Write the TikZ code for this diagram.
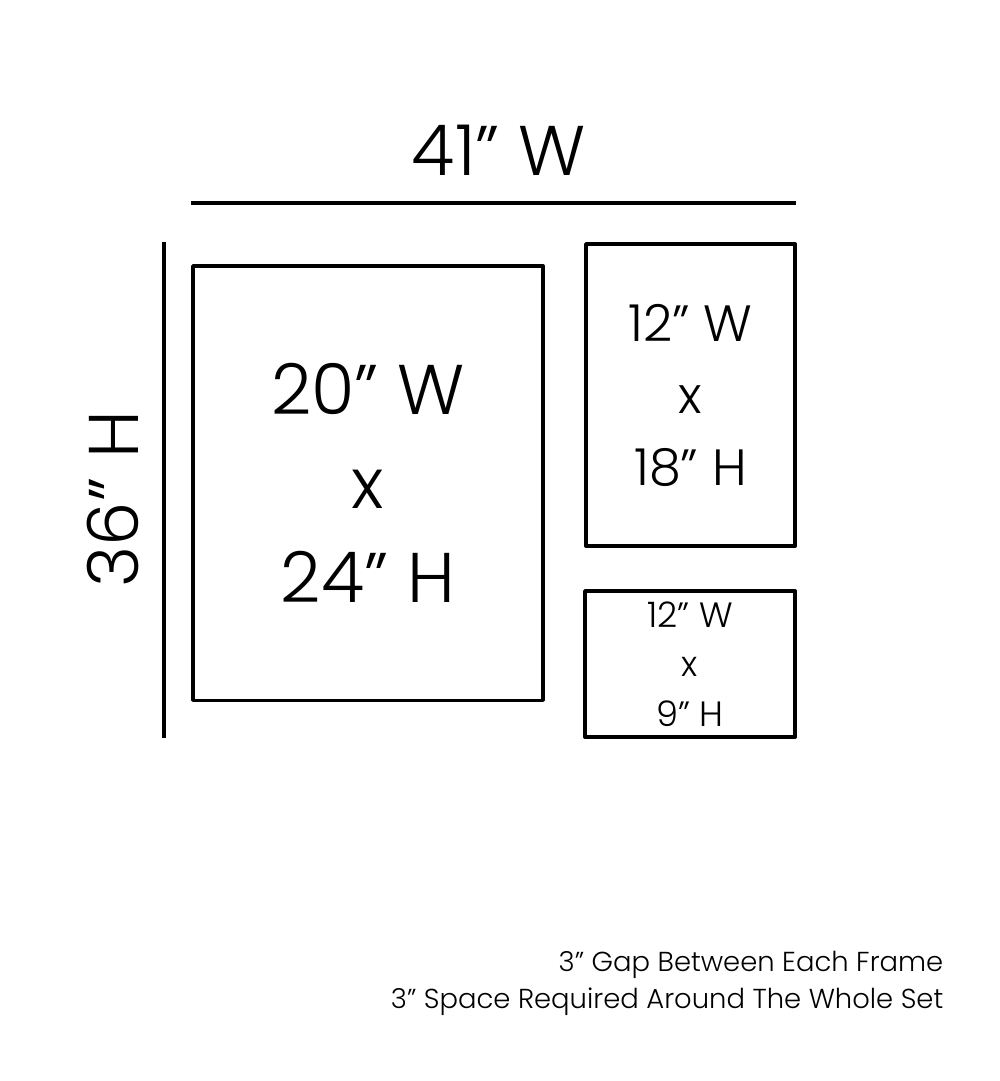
\documentclass[tikz,border=0pt]{standalone}
\usepackage{fontspec}
\setmainfont{Poppins}[UprightFont=* Light]
\usetikzlibrary{positioning}

\begin{document}
\begin{tikzpicture}[x=0.01cm,y=-0.01cm,
        frame/.style={draw,line width=1pt,line join=round,inner sep=0pt,outer sep=0pt,anchor=north west},
        measure/.style={line width=1.15pt},
        label/.style={inner sep=0pt,align=center}]
        \useasboundingbox (0,0) rectangle (1000,1081);

        % frames
        \node (big) [frame,minimum width=3.50cm,minimum height=4.34cm] at (193,266) {};
        \node (tall) [frame,minimum width=2.09cm,minimum height=3.02cm] at (586,244) {};
        \node (low) [frame,minimum width=2.10cm,minimum height=1.46cm] at (585,591) {};

        \node [label,font=\fontsize{20}{26.7}\selectfont] at (big.center) {20” W\\x\\24” H};
        \node [label,font=\fontsize{14.5}{20.5}\selectfont] at (tall.center) {12” W\\x\\18” H};
        \node [label,font=\fontsize{10}{14.1}\selectfont] at (low.center) {12” W\\x\\9” H};

        % overall size
        \coordinate (wl) at (191,203);
        \coordinate (wr) at (796,203);
        \coordinate (ht) at (164,242);
        \coordinate (hb) at (164,738);
        \draw[measure] (wl) -- (wr);
        \draw[measure] (ht) -- (hb);
        \node (width) [inner sep=0pt,anchor=base,font=\fontsize{20}{24}\selectfont] at (499,175) {41” W};
        \node (height) [inner sep=0pt,anchor=base,rotate=90,font=\fontsize{20}{24}\selectfont] at (138,499) {36” H};

        \node (gap) [inner sep=0pt,anchor=base east,font=\fontsize{7.8}{9}\selectfont] at (944,971) {3” Gap Between Each Frame};
        \node (space) [inner sep=0pt,anchor=base east,font=\fontsize{7.8}{9}\selectfont] at (944,1008) {3” Space Required Around The Whole Set};
\end{tikzpicture}
\end{document}
